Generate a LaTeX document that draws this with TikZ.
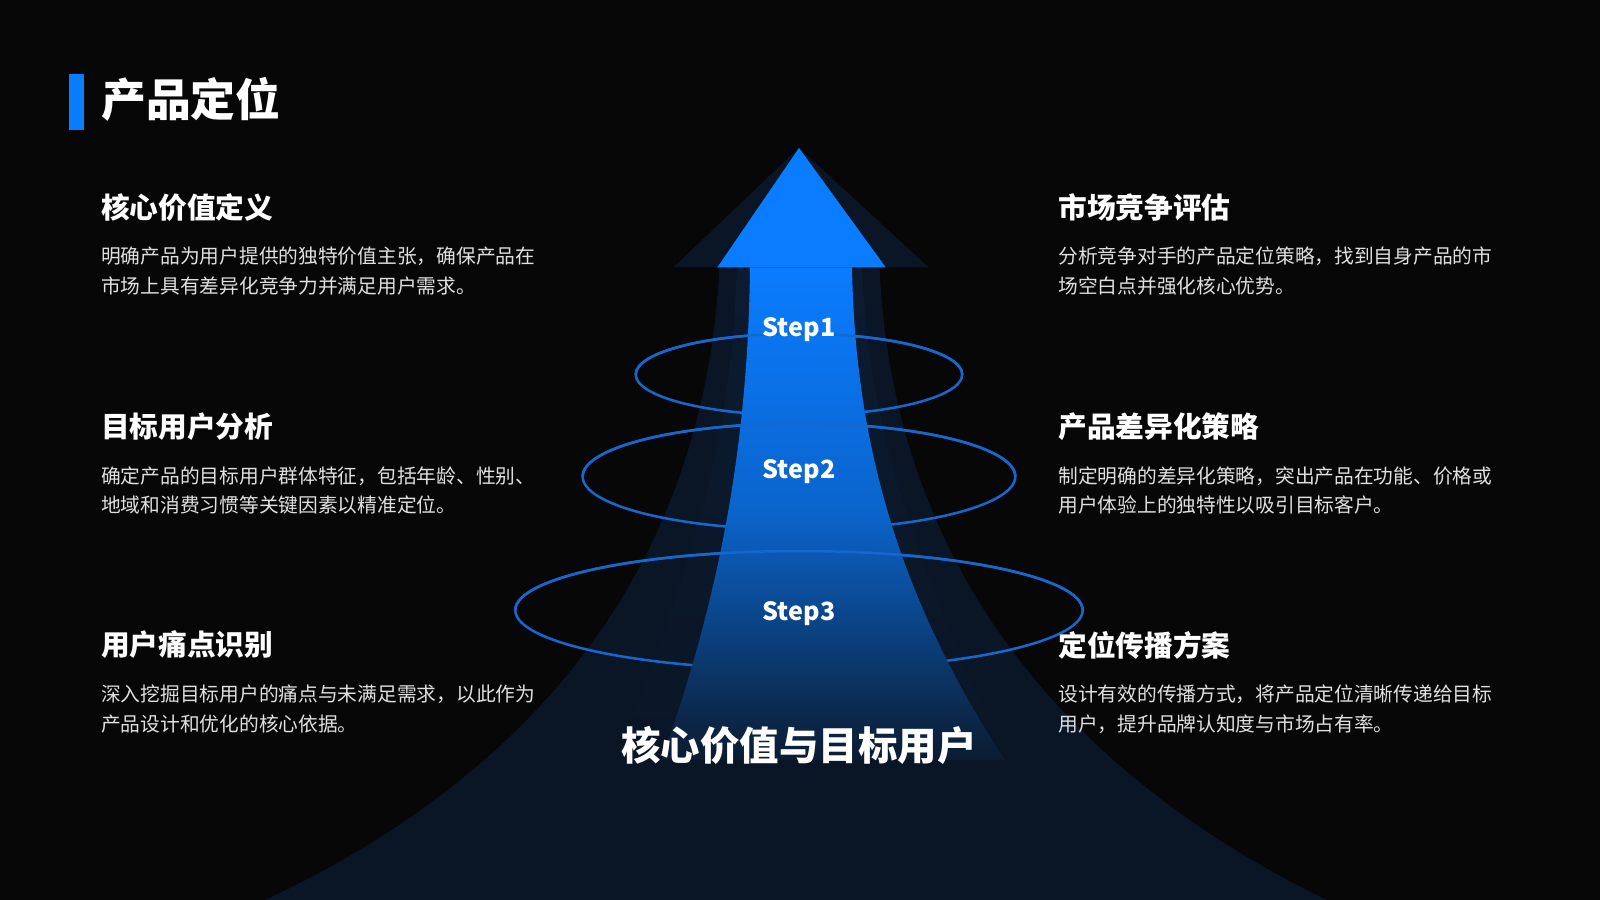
\documentclass[tikz,border=0pt]{standalone}
\usepackage{fontspec}
\setmainfont{Noto Sans CJK SC}
\usetikzlibrary{fadings}
\definecolor{bg}{HTML}{070707}
\definecolor{navy}{HTML}{0A1626}
\definecolor{navyb}{HTML}{0C1B30}
\definecolor{brightb}{HTML}{0A7CFF}
\definecolor{ringb}{HTML}{1668D0}
\tikzset{
  head/.style={anchor=west,text=white,font=\bfseries\fontsize{16}{18}\selectfont},
  body/.style={anchor=north west,text=white!88!black,font=\fontsize{11}{16.5}\selectfont,align=left},
  steplab/.style={text=white,font=\bfseries\fontsize{14}{16}\selectfont},
  ring/.style={draw=ringb,line width=1.4pt}
}
\begin{document}
\begin{tikzpicture}[x=0.2mm,y=-0.2mm]
\fill[bg] (0,0) rectangle (1568,882);
\useasboundingbox (0,0) rectangle (1568,882);
% outer dark sweep
\fill[navy] (260,882) .. controls (520,760) and (690,560) .. (705,262) -- (660,262) -- (783,145) -- (910,262) -- (862,262) .. controls (875,560) and (1050,760) .. (1300,882) -- cycle;
% middle layer
\shade[top color=navyb,bottom color=navy] (600,750) .. controls (680,560) and (718,420) .. (722,262) -- (845,262) .. controls (850,420) and (900,560) .. (990,750) -- cycle;
% rings back
\draw[ring] (783,598) ellipse (278 and 58);
\draw[ring] (783,467) ellipse (212 and 52);
\draw[ring] (783,367) ellipse (160 and 40);
% bright arrow
\shade[top color=brightb,bottom color=navyb,middle color=brightb!75!navyb] (735,262) .. controls (733,450) and (700,600) .. (648,745) -- (985,745) .. controls (890,600) and (838,450) .. (835,262) -- cycle;
\fill[brightb] (703,262) -- (783,145) -- (868,262) -- cycle;
% ring fronts
\draw[ring] (505,598) arc[start angle=180,end angle=360,x radius=278,y radius=58];
\draw[ring] (571,467) arc[start angle=180,end angle=360,x radius=212,y radius=52];
\draw[ring] (623,367) arc[start angle=180,end angle=360,x radius=160,y radius=40];
\node[steplab] (s1) at (783,323) {Step1};
\node[steplab] (s2) at (783,462) {Step2};
\node[steplab] (s3) at (783,601) {Step3};
\node[text=white,font=\bfseries\fontsize{22}{26}\selectfont] (core) at (783,731) {核心价值与目标用户};
% title
\fill[brightb] (68,73) rectangle (82,127);
\node[anchor=west,text=white,font=\bfseries\fontsize{25}{28}\selectfont] (title) at (93,97) {产品定位};
% left
\node[head] (h1) at (93,203) {核心价值定义};
\node[body] (b1) at (93,236) {明确产品为用户提供的独特价值主张，确保产品在\\市场上具有差异化竞争力并满足用户需求。};
\node[head] (h2) at (93,418) {目标用户分析};
\node[body] (b2) at (93,451) {确定产品的目标用户群体特征，包括年龄、性别、\\地域和消费习惯等关键因素以精准定位。};
\node[head] (h3) at (93,632) {用户痛点识别};
\node[body] (b3) at (93,665) {深入挖掘目标用户的痛点与未满足需求，以此作为\\产品设计和优化的核心依据。};
% right
\node[head] (h4) at (1031,203) {市场竞争评估};
\node[body] (b4) at (1031,236) {分析竞争对手的产品定位策略，找到自身产品的市\\场空白点并强化核心优势。};
\node[head] (h5) at (1031,418) {产品差异化策略};
\node[body] (b5) at (1031,451) {制定明确的差异化策略，突出产品在功能、价格或\\用户体验上的独特性以吸引目标客户。};
\node[head] (h6) at (1031,632) {定位传播方案};
\node[body] (b6) at (1031,665) {设计有效的传播方式，将产品定位清晰传递给目标\\用户，提升品牌认知度与市场占有率。};
\end{tikzpicture}
\end{document}
